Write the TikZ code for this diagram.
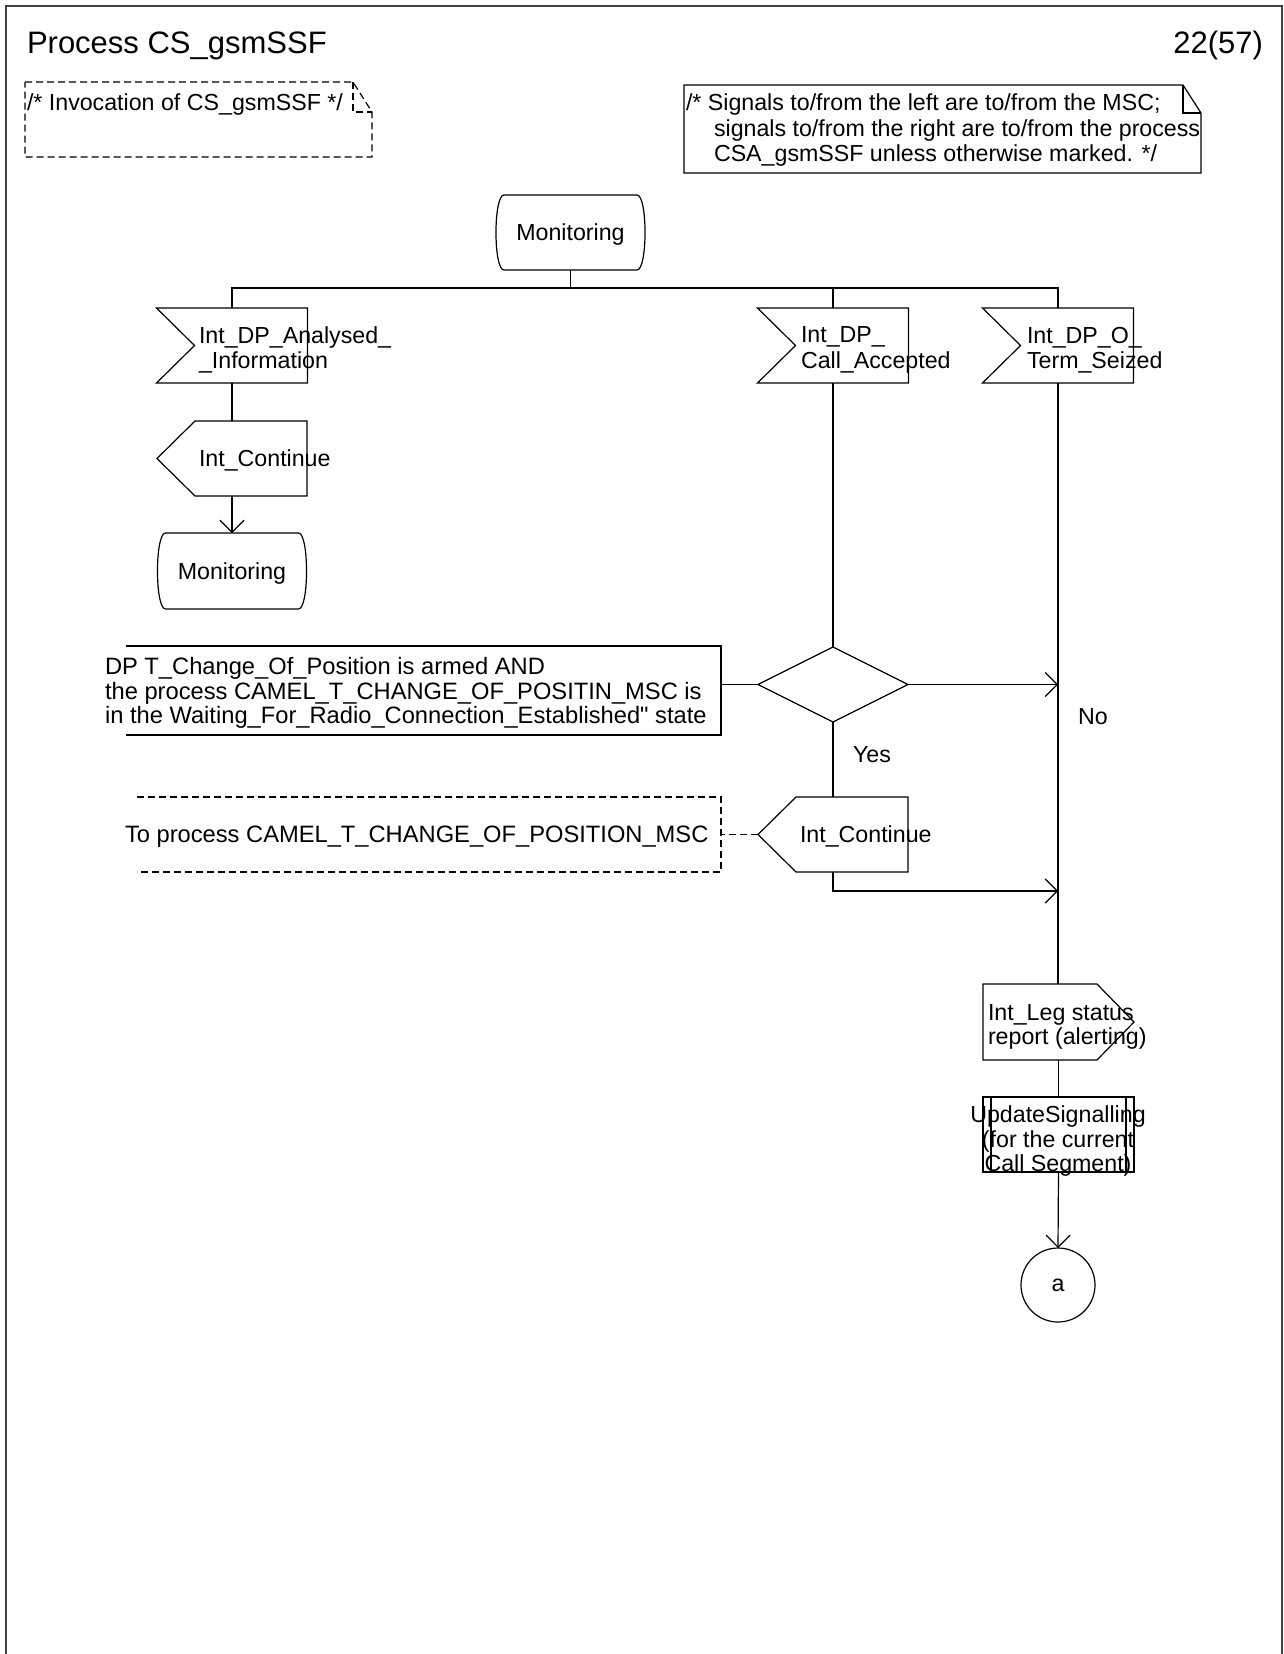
\documentclass[tikz,border=0pt]{standalone}
\usepackage{fontspec}
\setmainfont{Liberation Sans}
\usetikzlibrary{arrows.meta,calc}
\font\qtfont="Liberation Sans" at 11.85pt
\tikzset{
  shp/.style={draw=none, rectangle, inner sep=0pt, outer sep=0pt},
  txt/.style={inner sep=0pt, outer sep=0pt, font=\fontsize{11.6pt}{12.6pt}\selectfont},
  ln/.style={line width=0.6pt, draw=black},
  arr/.style={ln, -{Straight Barb[length=6pt,width=12pt]}},
  dsh/.style={ln, dash pattern=on 3.5pt off 2pt},
}
\newcommand{\stateoutline}[1]{\draw[ln] ([xshift=4pt]#1.north west) -- ([xshift=-4pt]#1.north east) .. controls ([xshift=1.35pt]#1.north east) and ([xshift=1.35pt]#1.south east) .. ([xshift=-4pt]#1.south east) -- ([xshift=4pt]#1.south west) .. controls ([xshift=-1.35pt]#1.south west) and ([xshift=-1.35pt]#1.north west) .. cycle;}
\newcommand{\inputoutline}[1]{\draw[ln] (#1.north west) -- (#1.north east) -- (#1.south east) -- (#1.south west) -- ([xshift=19pt]#1.west) -- cycle;}
\newcommand{\outleftoutline}[1]{\draw[ln] ([xshift=19pt]#1.north west) -- (#1.north east) -- (#1.south east) -- ([xshift=19pt]#1.south west) -- (#1.west) -- cycle;}
\newcommand{\outrightoutline}[1]{\draw[ln] (#1.north west) -- ([xshift=-18.5pt]#1.north east) -- (#1.east) -- ([xshift=-18.5pt]#1.south east) -- (#1.south west) -- cycle;}
\newcommand{\procoutline}[1]{\draw[ln] (#1.north west) rectangle (#1.south east); \draw[ln] ([xshift=4pt]#1.north west) -- ([xshift=4pt]#1.south west); \draw[ln] ([xshift=-4pt]#1.north east) -- ([xshift=-4pt]#1.south east);}
\begin{document}
\begin{tikzpicture}[x=0.5pt,y=-0.5pt]
\useasboundingbox (0,0) rectangle (1284,1654);
% frame
\draw[ln, draw=black!75] (6,1654) -- (6,6) -- (1282,6) -- (1282,1654);
\node[txt, anchor=base west, font=\fontsize{15.5pt}{18pt}\selectfont] (title) at (27,54) {Process CS\_gsmSSF};
\node[txt, anchor=base east, font=\fontsize{15.5pt}{18pt}\selectfont] (pagenum) at (1263,54) {22(57)};
% invocation note (dashed)
\node[shp, minimum width=173.5pt, minimum height=37.5pt] (note1) at (198.5,119.5) {};
\draw[dsh] (note1.north west) -- ([xshift=-9.5pt]note1.north east) -- ([yshift=-15pt]note1.north east) -- (note1.south east) -- (note1.south west) -- cycle;
\draw[dsh] ([xshift=-9.5pt]note1.north east) -- ([xshift=-9.5pt,yshift=-15pt]note1.north east) -- ([yshift=-15pt]note1.north east);
\node[txt, anchor=base west] (note1t) at (27,110) {/* Invocation of CS\_gsmSSF */};
% signals note
\node[shp, minimum width=258.5pt, minimum height=44pt] (note2) at (942.5,129) {};
\draw[ln] (note2.north west) -- ([xshift=-9pt]note2.north east) -- ([yshift=-14pt]note2.north east) -- (note2.south east) -- (note2.south west) -- cycle;
\draw[ln] ([xshift=-9pt]note2.north east) -- ([xshift=-9pt,yshift=-14pt]note2.north east) -- ([yshift=-14pt]note2.north east);
\node[txt, anchor=west, align=left, font=\fontsize{11.6pt}{12.6pt}\selectfont] (note2t) at (686,130) {/* Signals to/from the left are to/from the MSC;\\\hspace*{14pt}signals to/from the right are to/from the process\\\hspace*{14pt}CSA\_gsmSSF unless otherwise marked. */};
% shapes
\node[shp, minimum width=74.5pt, minimum height=37.5pt] (st1) at (570.5,232.5) {};
\stateoutline{st1}
\node[txt, anchor=base] (st1t) at (570.5,240) {Monitoring};
\node[shp, minimum width=75.5pt, minimum height=37.5pt] (in1) at (232,345.5) {};
\inputoutline{in1}
\node[shp, minimum width=75.5pt, minimum height=37.5pt] (in2) at (833,345.5) {};
\inputoutline{in2}
\node[shp, minimum width=75.5pt, minimum height=37.5pt] (in3) at (1058,345.5) {};
\inputoutline{in3}
\node[txt, anchor=west, align=left] (in1t) at (199,350) {Int\_DP\_Analysed\_\\\_Information};
\node[txt, anchor=west, align=left] (in2t) at (801,350) {Int\_DP\_\\Call\_Accepted};
\node[txt, anchor=west, align=left] (in3t) at (1027,350) {Int\_DP\_O\_\\Term\_Seized};
\node[shp, minimum width=75pt, minimum height=37.5pt] (out1) at (232,458.5) {};
\outleftoutline{out1}
\node[txt, anchor=base west] (out1t) at (199,466) {Int\_Continue};
\node[shp, minimum width=74.5pt, minimum height=38pt] (st2) at (232,571) {};
\stateoutline{st2}
\node[txt, anchor=base] (st2t) at (232,579) {Monitoring};
\node[shp, minimum width=75pt, minimum height=37.5pt] (dec) at (833,684.5) {};
\draw[ln] (dec.north) -- (dec.east) -- (dec.south) -- (dec.west) -- cycle;
\node[shp, minimum width=297.5pt, minimum height=44.5pt] (c1) at (423.5,690.5) {};
\draw[ln] (c1.north west) -- (c1.north east) -- (c1.south east) -- (c1.south west);
\node[txt, anchor=west, align=left, font=\fontsize{11.85pt}{12.2pt}\selectfont] (c1t) at (105,693) {DP T\_Change\_Of\_Position is armed AND\\the process CAMEL\_T\_CHANGE\_OF\_POSITIN\_MSC is\\in the Waiting\_For\_Radio\_Connection\_Established{\qtfont"} state};
\node[txt, anchor=base west] (yes) at (853,762) {Yes};
\node[txt, anchor=base west] (no) at (1078,724) {No};
\node[shp, minimum width=75pt, minimum height=37.5pt] (out2) at (833,834.5) {};
\outleftoutline{out2}
\node[txt, anchor=base west] (out2t) at (800,842) {Int\_Continue};
\node[shp, minimum width=292pt, minimum height=37.5pt] (c2) at (429,834.5) {};
\draw[dsh] (c2.north west) -- (c2.north east) -- (c2.south east) -- (c2.south west);
\node[txt, anchor=base west, font=\fontsize{11.85pt}{12.2pt}\selectfont] (c2t) at (125,842) {To process CAMEL\_T\_CHANGE\_OF\_POSITION\_MSC};
\node[shp, minimum width=75.5pt, minimum height=38pt] (leg) at (1058.5,1022) {};
\outrightoutline{leg}
\node[txt, anchor=west, align=left, font=\fontsize{11.6pt}{12.1pt}\selectfont] (legt) at (988,1027) {Int\_Leg status\\report (alerting)};
\node[shp, minimum width=75.5pt, minimum height=37.5pt] (proc) at (1058.5,1134.5) {};
\procoutline{proc}
\node[txt, align=center, font=\fontsize{11.6pt}{12.4pt}\selectfont] (proct) at (1058,1141) {UpdateSignalling\\(for the current\\Call Segment)};
\node[txt, draw, ln, circle, minimum size=37pt] (conn) at (1058,1285) {a};
% connectors
\coordinate (fork) at (570.5,288);
\coordinate (j2) at (1058,891);
\draw[ln] (st1.south) -- (fork);
\draw[ln] (in1.north) |- (fork) -| (in3.north);
\draw[ln] (in2.north) -- (in2.north |- fork);
\draw[ln] (in1.south) -- (out1.north);
\draw[arr] (out1.south) -- (st2.north);
\draw[ln] (in2.south) -- (dec.north);
\draw[ln] (dec.west) -- (dec.west -| c1.east);
\draw[arr] (dec.east) -- (dec.east -| in3.south);
\draw[ln] (dec.south) -- (out2.north);
\draw[dsh] (out2.west) -- (out2.west -| c2.east);
\draw[arr] (out2.south) |- (j2);
\draw[ln] (in3.south) -- (in3.south |- leg.north);
\draw[ln] (leg.south) -- (proc.north);
\draw[arr] (proc.south) -- (conn.north);
\end{tikzpicture}
\end{document}
